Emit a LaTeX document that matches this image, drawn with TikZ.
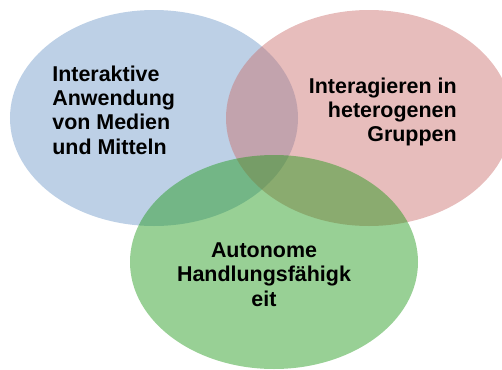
\documentclass[tikz,border=0pt]{standalone}
\usepackage{fontspec}
\setmainfont{Liberation Sans}
\definecolor{VennBlue}{RGB}{108,151,199}
\definecolor{VennRed}{RGB}{202,108,106}
\definecolor{VennGreen}{RGB}{26,151,19}
\tikzset{
  venn/.style={fill opacity=0.45},
  venntext/.style={font=\bfseries\fontsize{12.2}{13.8}\selectfont, inner sep=0pt}
}

\begin{document}
\begin{tikzpicture}
\useasboundingbox (0,0) rectangle (10.04,7.38);

\fill[VennBlue,  venn] (3.08,5.02) ellipse (2.88 and 2.16);
\fill[VennRed,   venn] (7.38,5.02) ellipse (2.86 and 2.16);
\fill[VennGreen, venn] (5.48,2.14) ellipse (2.88 and 2.14);

\node[venntext, anchor=north west, align=left]  (medien)   at (1.04,6.07) {Interaktive\\Anwendung\\von Medien\\und Mitteln};
\node[venntext, anchor=north east, align=right] (gruppen)  at (9.14,5.83) {Interagieren in\\heterogenen\\Gruppen};
\node[venntext, anchor=north, align=center]     (autonom)  at (5.28,2.53) {Autonome\\Handlungsfähigk\\eit};

\end{tikzpicture}
\end{document}
